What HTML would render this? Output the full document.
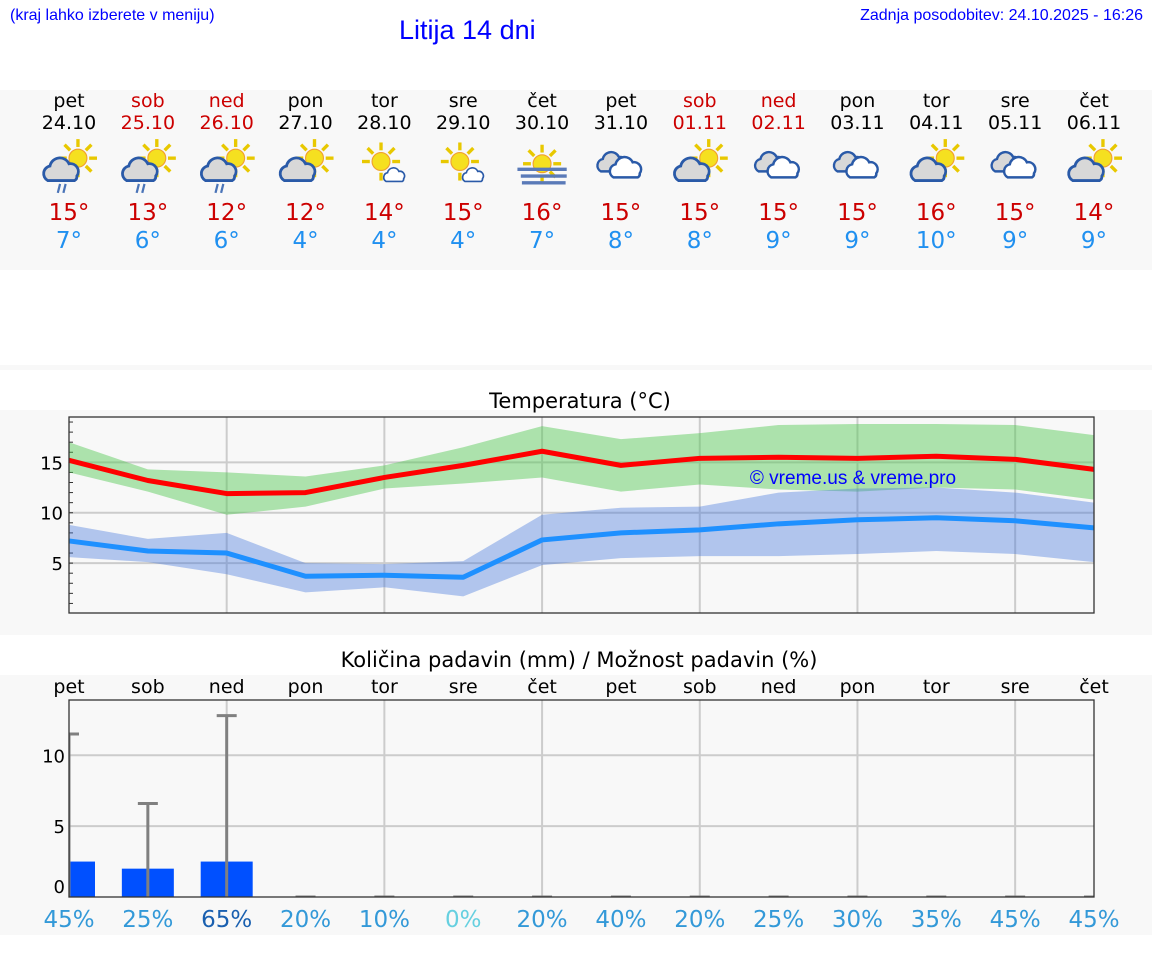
<!DOCTYPE html>
<html><head><meta charset="utf-8"><style>
body{margin:0;width:1152px;height:975px;background:#fff;position:relative;overflow:hidden;font-family:"DejaVu Sans",sans-serif}
.abs{position:absolute}
.hdr{font-family:"Liberation Sans",sans-serif;color:#0000ff}
</style></head><body>
<div class="abs hdr" style="left:10px;top:7px;font-size:16px">(kraj lahko izberete v meniju)</div>
<div class="abs hdr" style="left:399px;top:15px;font-size:27px">Litija 14 dni</div>
<div class="abs hdr" style="right:9px;top:7px;font-size:16px">Zadnja posodobitev: 24.10.2025 - 16:26</div>
<div class="abs" style="left:0;top:90px;width:1152px;height:180px;background:#f8f8f8"></div>
<div class="abs" style="left:0;top:365px;width:1152px;height:5px;background:#f8f8f8"></div>
<div class="abs" style="left:0;top:410px;width:1152px;height:225px;background:#f8f8f8"></div>
<div class="abs" style="left:0;top:675px;width:1152px;height:260px;background:#f8f8f8"></div>
<svg class="abs" style="left:0;top:0" width="1152" height="975" id="svg">
<defs>
<g id="sun"><g stroke="#e8c800" stroke-width="3"><line x1="0" y1="-17" x2="0" y2="-10"/><line x1="12" y1="-12" x2="7" y2="-7"/><line x1="17" y1="0" x2="10" y2="0"/><line x1="12" y1="12" x2="7" y2="7"/><line x1="-12" y1="-12" x2="-7" y2="-7"/><line x1="-17" y1="0" x2="-10" y2="0"/><line x1="0" y1="17" x2="0" y2="10"/></g><circle r="8" fill="#f5e020" stroke="#f0a030" stroke-width="1"/></g>
<path id="cloud" d="M-14,8 a7,7 0 0 1 2,-13 a9,9 0 0 1 17,-2 a7,7 0 0 1 7,11 a4,4 0 0 1 -2,4 z" fill="#d8d8d8" stroke="#2a5aa8" stroke-width="2.5"/>
<g id="pc"><use href="#sun" x="8" y="-7"/><use href="#cloud" x="-5" y="5"/></g>
<g id="pcr"><use href="#pc"/><g stroke="#4a74b8" stroke-width="2"><line x1="-8" y1="16" x2="-10" y2="24"/><line x1="-3" y1="16" x2="-5" y2="24"/></g></g>
<g id="sc"><use href="#sun" x="-3" y="-4"/><g transform="translate(10,9) scale(0.6)"><path d="M-14,8 a7,7 0 0 1 2,-13 a9,9 0 0 1 17,-2 a7,7 0 0 1 7,11 a4,4 0 0 1 -2,4 z" fill="#fff" stroke="#2a5aa8" stroke-width="2.5"/></g></g>
<g id="cl"><g transform="translate(-6,-2) scale(0.85)"><use href="#cloud"/></g><g transform="translate(6,3) scale(0.9)"><path d="M-14,8 a7,7 0 0 1 2,-13 a9,9 0 0 1 17,-2 a7,7 0 0 1 7,11 a4,4 0 0 1 -2,4 z" fill="#fff" stroke="#2a5aa8" stroke-width="2.5"/></g></g>
<g id="fog"><use href="#sun" x="0" y="-2"/><g stroke="#5a7ab8" stroke-width="3"><line x1="-22" y1="3" x2="22" y2="3"/><line x1="-19" y1="9" x2="22" y2="9"/><line x1="-18" y1="15" x2="21" y2="15"/></g></g>
</defs>
</svg>
<script>
const days=["pet","sob","ned","pon","tor","sre","čet","pet","sob","ned","pon","tor","sre","čet"];
const dates=["24.10","25.10","26.10","27.10","28.10","29.10","30.10","31.10","01.11","02.11","03.11","04.11","05.11","06.11"];
const weekend=[0,1,1,0,0,0,0,0,1,1,0,0,0,0];
const icons=["pcr","pcr","pcr","pc","sc","sc","fog","cl","pc","cl","cl","pc","cl","pc"];
const hiTxt=[15,13,12,12,14,15,16,15,15,15,15,16,15,14];
const loTxt=[7,6,6,4,4,4,7,8,8,9,9,10,9,9];
const tMax=[15.2,13.2,11.9,12.0,13.5,14.7,16.1,14.7,15.4,15.5,15.4,15.6,15.3,14.3];
const tMaxHi=[17,14.3,14,13.6,14.7,16.5,18.6,17.3,17.9,18.7,18.8,18.8,18.7,17.7];
const tMaxLo=[14,12.1,9.8,10.6,12.4,12.9,13.5,12.1,12.8,12.3,12.1,12.5,12.3,11.3];
const tMin=[7.2,6.2,6.0,3.7,3.8,3.6,7.3,8.0,8.3,8.9,9.3,9.5,9.2,8.5];
const tMinHi=[8.8,7.4,8.0,5.0,4.9,5.2,9.8,10.5,10.6,12.0,12.4,12.5,12.0,11.0];
const tMinLo=[5.6,5.1,3.9,2.1,2.6,1.7,4.8,5.5,5.7,5.7,5.9,6.2,5.9,5.1];
const rain=[2.5,2.0,2.5,0,0,0,0,0,0,0,0,0,0,0];
const rainMax=[11.5,6.6,12.8,0,0,0,0,0,0,0,0,0,0,0];
const prob=[45,25,65,20,10,0,20,40,20,25,30,35,45,45];
const tTicks=[5,10,15];
const pTicks=[0,5,10];

const NS="http://www.w3.org/2000/svg";
const svg=document.getElementById('svg');
function el(tag,attrs,parent){const e=document.createElementNS(NS,tag);for(const k in attrs)e.setAttribute(k,attrs[k]);(parent||svg).appendChild(e);return e;}
function txt(x,y,s,size,fill,anchor){const t=el('text',{x:x,y:y,'font-size':size,fill:fill,'text-anchor':anchor||'middle','font-family':'DejaVu Sans, sans-serif'});t.textContent=s;return t;}
const X0=69,X1=1094;
const xs=i=>X0+i*(X1-X0)/13;
for(let i=0;i<14;i++){
  const c=weekend[i]?'#cc0000':'#000';
  let t=txt(xs(i),107,days[i],19,c);
  
  
  t=txt(xs(i),129,dates[i],19,c);
  
  
  const u=el('use',{href:'#'+icons[i],transform:'translate('+xs(i)+',166) scale(1.12)'});
  
  
  t=txt(xs(i),220,hiTxt[i]+'°',23,'#cc0000');
  
  
  t=txt(xs(i),248,loTxt[i]+'°',23,'#2090f0');
  
  
}
const TY0=613,TY1=417,TV0=0.05,TV1=19.5;
const ty=v=>TY0-(v-TV0)*(TY0-TY1)/(TV1-TV0);
let t=txt(580,408,'Temperatura (°C)',21,'#000');


for(let i=2;i<13;i+=2){const g=el('line',{x1:xs(i),x2:xs(i),y1:TY1,y2:TY0,stroke:'#ccc','stroke-width':2});}
tTicks.forEach(v=>{const g=el('line',{x1:X0,x2:X1,y1:ty(v),y2:ty(v),stroke:'#ccc','stroke-width':2});
 const l=txt(X0-6,ty(v)+7,String(v),18,'#000','end');});
for(let v=1;v<=19;v++){el('line',{x1:X0,x2:X0+4,y1:ty(v),y2:ty(v),stroke:'#333','stroke-width':1});}
function band(hi,lo,fill,name){let d='';hi.forEach((v,i)=>d+=(i?'L':'M')+xs(i)+','+ty(v));for(let i=lo.length-1;i>=0;i--)d+='L'+xs(i)+','+ty(lo[i]);const p=el('path',{d:d+'Z',fill:fill});}
function line(a,col,name){const p=el('polyline',{points:a.map((v,i)=>xs(i)+','+ty(v)).join(' '),fill:'none',stroke:col,'stroke-width':5,'stroke-linejoin':'round'});}
band(tMaxHi,tMaxLo,'rgba(80,200,80,0.45)','max-temp-band');
band(tMinHi,tMinLo,'rgba(70,120,220,0.4)','min-temp-band');
line(tMax,'#ff0000','max-temp-line');
line(tMin,'#1e90ff','min-temp-line');
let r=el('rect',{x:X0,y:TY1,width:X1-X0,height:TY0-TY1,fill:'none',stroke:'#333','stroke-width':1.3});

t=txt(853,484,'© vreme.us & vreme.pro',19,'#0000ff');
t.setAttribute('font-family','Liberation Sans, sans-serif');


const PY0=897,PY1=700,PV1=13.9;
const py=v=>PY0-v*(PY0-PY1)/PV1;
t=txt(579,667,'Količina padavin (mm) / Možnost padavin (%)',21,'#000');


for(let i=0;i<14;i++){const l=txt(xs(i),693,days[i],19,'#000');}
for(let i=2;i<13;i+=2){const g=el('line',{x1:xs(i),x2:xs(i),y1:PY1,y2:PY0,stroke:'#ccc','stroke-width':2});}
pTicks.forEach(v=>{if(v>0){const g=el('line',{x1:X0,x2:X1,y1:py(v),y2:py(v),stroke:'#ccc','stroke-width':2});}
 const l=txt(X0-4,py(v)+(v?7:-4),String(v),18,'#000','end');});
const cp=el('clipPath',{id:'pclip'});el('rect',{x:X0,y:PY1,width:X1-X0,height:PY0-PY1},cp);
const pg=el('g',{'clip-path':'url(#pclip)'});
const bw=52;
for(let i=0;i<14;i++){
  const h=PY0-py(rain[i]);
  const b=el('rect',{x:xs(i)-bw/2,y:py(rain[i]),width:bw,height:Math.max(h,0),fill:'#0050ff'},pg);
  
  
  const e=el('line',{x1:xs(i),x2:xs(i),y1:PY0,y2:py(rainMax[i]),stroke:'#808080','stroke-width':3},pg);
  
  
  const c=el('line',{x1:xs(i)-10,x2:xs(i)+10,y1:py(rainMax[i]),y2:py(rainMax[i]),stroke:'#808080','stroke-width':3},pg);
  
  
}
r=el('rect',{x:X0,y:PY1,width:X1-X0,height:PY0-PY1,fill:'none',stroke:'#333','stroke-width':1.3});

function pcol(p){if(p===0)return '#66d0e0';if(p>=60)return '#1a60b0';return '#3399d8';}
for(let i=0;i<14;i++){const l=txt(xs(i),927,prob[i]+'%',23,pcol(prob[i]));}
</script>
</body></html>
